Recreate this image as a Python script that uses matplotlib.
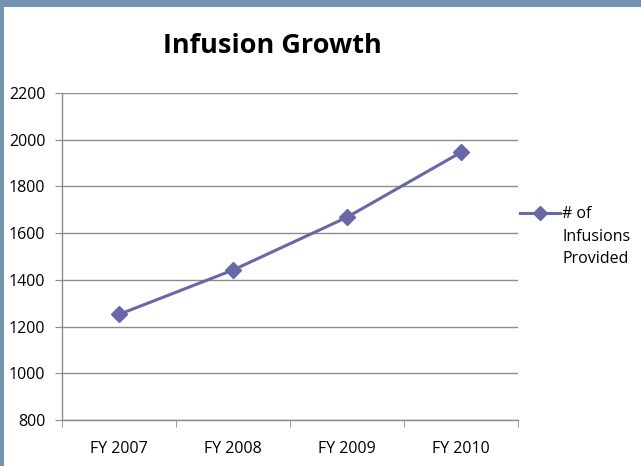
import numpy as np
import matplotlib.pyplot as plt
from matplotlib.patches import Rectangle
from matplotlib.lines import Line2D

categories = ["FY 2007", "FY 2008", "FY 2009", "FY 2010"]
infusions = [1252, 1442, 1668, 1946]
y_ticks = [800, 1000, 1200, 1400, 1600, 1800, 2000, 2200]
series_name = "# of\nInfusions\nProvided"

line_color = "#6868A8"
grid_color = "#8C8C8C"
font = ["Open Sans", "DejaVu Sans"]

fig = plt.figure(figsize=(6.41, 4.66), dpi=100)
W, H = 641, 466

# frame border (blue-gray band at top and left)
fig.patches.append(Rectangle((0, 0), 1, 1, transform=fig.transFigure,
                             facecolor="#7393B0", edgecolor="none", zorder=-2))
fig.patches.append(Rectangle((4 / W, 0), 1, 1 - 7 / H, transform=fig.transFigure,
                             facecolor="white", edgecolor="none", zorder=-1))

ax = fig.add_axes([62 / W, (H - 420) / H, (518 - 62) / W, (420 - 93) / H])
x = np.arange(len(categories))
ax.plot(x, infusions, color=line_color, lw=2.2, marker="D", ms=8,
        markerfacecolor=line_color, markeredgecolor=line_color)

ax.set_xlim(-0.5, len(categories) - 0.5)
ax.set_ylim(800, 2200)
ax.set_yticks(y_ticks)
ax.set_yticklabels([str(v) for v in y_ticks], fontsize=11.5, family=font)
ax.set_xticks(x)
ax.set_xticklabels(categories, fontsize=11.5, family=font)
ax.set_xticks(np.arange(len(categories) + 1) - 0.5, minor=True)
ax.tick_params(axis="x", which="major", length=0, pad=15)
ax.tick_params(axis="x", which="minor", length=5, color=grid_color, direction="out")
ax.tick_params(axis="y", length=5, color=grid_color, direction="out", pad=7)

ax.grid(axis="y", color=grid_color, lw=1)
ax.set_axisbelow(True)
for s in ["top", "right"]:
    ax.spines[s].set_visible(False)
for s in ["left", "bottom"]:
    ax.spines[s].set_color(grid_color)
    ax.spines[s].set_linewidth(1)

fig.text(272 / W, 1 - 46 / H, "Infusion Growth", ha="center", va="center",
         fontsize=19.5, fontweight="bold", family=font)

# legend
fig.add_artist(Line2D([520 / W, 560 / W], [1 - 213 / H, 1 - 213 / H],
                      transform=fig.transFigure, color=line_color, lw=2.2))
fig.add_artist(Line2D([540 / W], [1 - 213 / H], transform=fig.transFigure,
                      color=line_color, marker="D", ms=7, lw=0))
fig.text(562 / W, 1 - 206 / H, series_name, ha="left", va="top",
         fontsize=11.5, family=font, linespacing=1.55)

fig.savefig("out.png", dpi=100)
